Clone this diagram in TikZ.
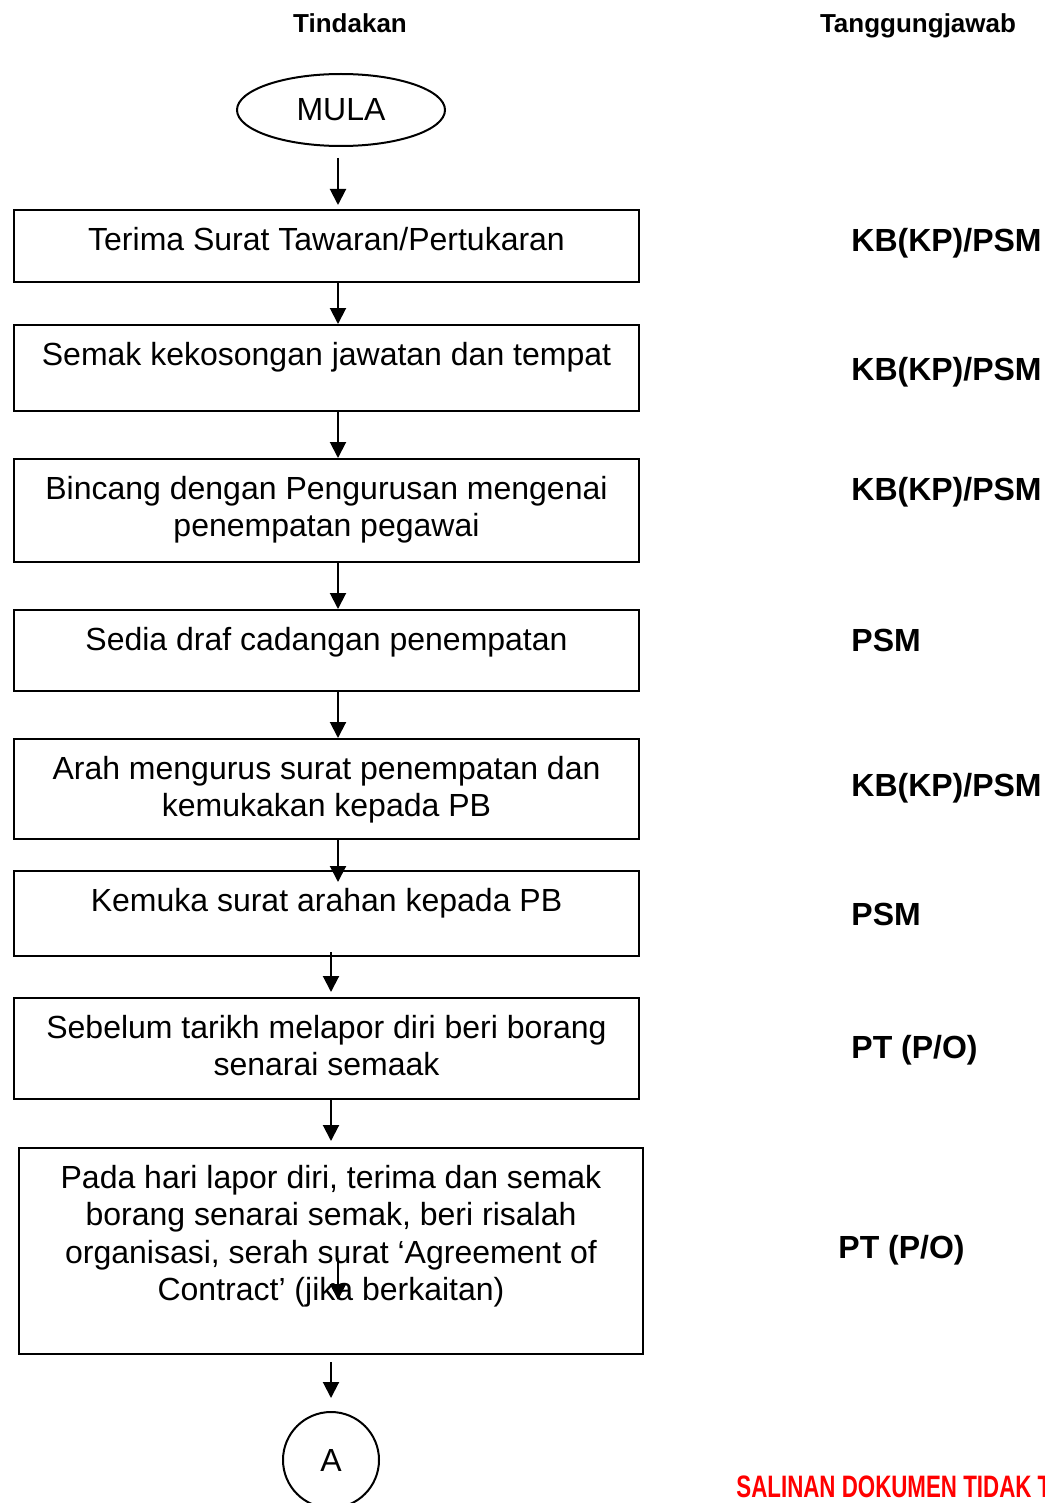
\documentclass[tikz,border=0pt]{standalone}
\usepackage{fontspec}
\setmainfont{Liberation Sans}
\usepackage{graphicx}
\usetikzlibrary{positioning, shapes.geometric, arrows.meta}

\newcommand{\steplines}[1]{\begin{tabular}[t]{@{}c@{}}#1\end{tabular}}

\begin{document}
\begin{tikzpicture}[
    x=0.5pt, y=-0.5pt,
    font=\fontsize{16}{18.75}\selectfont,
    box/.style={draw,line width=1pt,rectangle,anchor=north west,minimum width=312.5pt,inner xsep=0pt,inner ysep=0pt,text height=20pt},
    arr/.style={-{Triangle[length=8pt,width=8pt]},line width=1pt},
    hdr/.style={font=\fontsize{13}{15}\selectfont\bfseries,anchor=base,inner sep=0pt},
    who/.style={font=\fontsize{16}{18}\selectfont\bfseries,anchor=base west,inner sep=0pt}
  ]
  \useasboundingbox (0,0) rectangle (1044,1503);
  \coordinate (colA) at (338,0);
  \coordinate (colB) at (331,0);

  \node[hdr] (hTindakan) at (350,33) {Tindakan};
  \node[hdr] (hTanggung) at (918,33) {Tanggungjawab};

  \node[draw,line width=1pt,ellipse,minimum width=104pt,minimum height=36pt,inner sep=0pt] (mula) at (341,110) {MULA};

  % langkah
  \node[box,text depth=16pt] (s1) at (13,209) {\steplines{Terima Surat Tawaran/Pertukaran}};
  \node[box,text depth=23pt] (s2) at (13,324) {\steplines{Semak kekosongan jawatan dan tempat}};
  \node[box,text depth=31.5pt] (s3) at (13,458) {\steplines{Bincang dengan Pengurusan mengenai\\penempatan pegawai}};
  \node[box,text depth=20.5pt] (s4) at (13,609) {\steplines{Sedia draf cadangan penempatan}};
  \node[box,text depth=30pt] (s5) at (13,738) {\steplines{Arah mengurus surat penempatan dan\\kemukakan kepada PB}};
  \node[box,text depth=22.5pt] (s6) at (13,870) {\steplines{Kemuka surat arahan kepada PB}};
  \node[box,text depth=30.5pt] (s7) at (13,997) {\steplines{Sebelum tarikh melapor diri beri borang\\senarai semaak}};
  \node[box,text depth=83pt,minimum width=312pt] (s8) at (18,1147) {\steplines{Pada hari lapor diri, terima dan semak\\borang senarai semak, beri risalah\\organisasi, serah surat `Agreement of\\Contract' (jika berkaitan)}};
  \node[draw,line width=1pt,circle,minimum size=48pt,inner sep=0pt] (a) at (331,1460) {A};

  \draw[arr,shorten <=5.5pt,shorten >=2pt] (mula.south -| colA) -- (s1.north -| colA);
  \draw[arr] (s1.south -| colA) -- (s2.north -| colA);
  \draw[arr] (s2.south -| colA) -- (s3.north -| colA);
  \draw[arr] (s3.south -| colA) -- (s4.north -| colA);
  \draw[arr] (s4.south -| colA) -- (s5.north -| colA);
  \draw[arr,shorten >=-6pt] (s5.south -| colA) -- (s6.north -| colA);
  \draw[arr,shorten <=-2.5pt,shorten >=2.5pt] (s6.south -| colB) -- (s7.north -| colB);
  \draw[arr,shorten >=3pt] (s7.south -| colB) -- (s8.north -| colB);
  \draw[arr,shorten <=3.5pt,shorten >=6.5pt] (s8.south -| colB) -- (a.north -| colB);
  \coordinate (x1) at (338,1258);
  \coordinate (x2) at (338,1300);
  \draw[arr] (x1) -- (x2);

  % tanggungjawab
  \node[who] (r1) at (851,251) {KB(KP)/PSM};
  \node[who] (r2) at (851,380) {KB(KP)/PSM};
  \node[who] (r3) at (851,500) {KB(KP)/PSM};
  \node[who] (r4) at (851,651) {PSM};
  \node[who] (r5) at (851,796) {KB(KP)/PSM};
  \node[who] (r6) at (851,925) {PSM};
  \node[who] (r7) at (851,1058) {PT (P/O)};
  \node[who] (r8) at (838,1258) {PT (P/O)};

  \node[anchor=base west,inner sep=0pt,text=red,font=\fontsize{15.5}{17}\selectfont\bfseries] (salinan) at (736,1497) {\scalebox{0.72}[1]{SALINAN DOKUMEN TIDAK T}};
\end{tikzpicture}
\end{document}
